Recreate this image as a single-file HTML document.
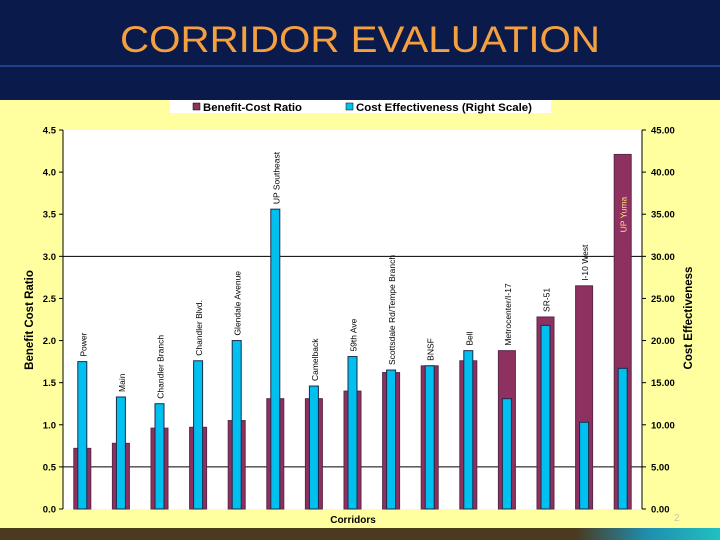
<!DOCTYPE html>
<html><head><meta charset="utf-8"><style>
html,body{margin:0;padding:0;width:720px;height:540px;overflow:hidden;background:#0a1a4a}
svg{display:block;font-family:"Liberation Sans",sans-serif}
</style></head><body>
<svg id="c" width="720" height="540" viewBox="0 0 720 540" xmlns="http://www.w3.org/2000/svg">
<defs>
<linearGradient id="bg" x1="0" x2="1" y1="0" y2="0">
<stop offset="0" stop-color="#4a3a20"/><stop offset="0.8" stop-color="#4a3a20"/><stop offset="0.9" stop-color="#1f8fb0"/><stop offset="1" stop-color="#20c0c0"/>
</linearGradient>
</defs>
<rect x="0" y="0" width="720" height="100" fill="#0a1a4a"/>
<rect x="0" y="65" width="720" height="2" fill="#1f3f8f"/>
<text x="360" y="52" text-anchor="middle" font-size="37" fill="#f5a040" textLength="480" lengthAdjust="spacingAndGlyphs">CORRIDOR EVALUATION</text>
<rect x="0" y="100" width="720" height="428" fill="#ffffa0"/>
<rect x="0" y="528" width="720" height="12" fill="url(#bg)"/>
<rect x="63" y="130" width="579" height="379" fill="#ffffff"/>
<g>
<rect x="170" y="100" width="381" height="13" fill="#ffffff"/>
<rect x="193" y="103" width="7" height="7" fill="#8e3060" stroke="#000" stroke-width="0.5"/>
<text x="203" y="111" font-size="11" font-weight="bold" fill="#000" textLength="99" lengthAdjust="spacingAndGlyphs">Benefit-Cost Ratio</text>
<rect x="346" y="103" width="7" height="7" fill="#00c0f0" stroke="#000" stroke-width="0.5"/>
<text x="356" y="111" font-size="11" font-weight="bold" fill="#000" textLength="176" lengthAdjust="spacingAndGlyphs">Cost Effectiveness (Right Scale)</text>
</g>
<g id="grid"></g>
<g id="bars"></g>
<g id="axes"></g>
<text x="353" y="523" text-anchor="middle" font-size="10" font-weight="bold" fill="#000">Corridors</text>
<text transform="translate(33,320) rotate(-90)" text-anchor="middle" font-size="11.5" font-weight="bold" fill="#000">Benefit Cost Ratio</text>
<text transform="translate(692,318) rotate(-90)" text-anchor="middle" font-size="11.5" font-weight="bold" fill="#000">Cost Effectiveness</text>
<text x="674" y="521" font-size="10" fill="#c8c8a0">2</text>
</svg>
<script>
const categories = ["Power","Main","Chandler Branch","Chandler Blvd.","Glendale Avenue","UP Southeast","Camelback","59th Ave","Scottsdale Rd/Tempe Branch","BNSF","Bell","Metrocenter/I-17","SR-51","I-10 West","UP Yuma"];
const bcrValues = [0.72,0.78,0.96,0.97,1.05,1.31,1.31,1.40,1.62,1.70,1.76,1.88,2.28,2.65,4.21];
const ceValues = [17.5,13.3,12.5,17.6,20.0,35.6,14.6,18.1,16.5,17.0,18.8,13.1,21.8,10.3,16.7];
const leftTicks = ["0.0","0.5","1.0","1.5","2.0","2.5","3.0","3.5","4.0","4.5"];
const rightTicks = ["0.00","5.00","10.00","15.00","20.00","25.00","30.00","35.00","40.00","45.00"];

const NS="http://www.w3.org/2000/svg";
const X0=63,X1=642,Y0=509,Y1=130;
const yL=v=>Y0-(v/4.5)*(Y0-Y1);
const yR=v=>Y0-(v/45)*(Y0-Y1);
const band=(X1-X0)/categories.length;
const xc=i=>X0+band*(i+0.5);
function mk(tag,attrs,parent,txt){const e=document.createElementNS(NS,tag);for(const k in attrs)e.setAttribute(k,attrs[k]);if(txt!==undefined)e.textContent=txt;parent.appendChild(e);return e;}
const grid=document.getElementById('grid'),bars=document.getElementById('bars'),axes=document.getElementById('axes');
[0.5,3.0].forEach(v=>{
  const l=mk('line',{x1:X0,x2:X1,y1:yL(v),y2:yL(v),stroke:'#000','stroke-width':1},grid);
  
  
});
categories.forEach((c,i)=>{
  const cx=xc(i);
  const b=mk('rect',{x:cx-8.5,y:yL(bcrValues[i]),width:17,height:Y0-yL(bcrValues[i]),fill:'#8e3060',stroke:'#5a2848','stroke-width':1},bars);
  
  
  const r=mk('rect',{x:cx-4.5,y:yR(ceValues[i]),width:9,height:Y0-yR(ceValues[i]),fill:'#00c0f0',stroke:'#1a2a4a','stroke-width':1},bars);
  
  
  const last=i===categories.length-1;
  const top=Math.min(yL(bcrValues[i]),yR(ceValues[i]));
  const ly=last? yR(ceValues[i]) - 136 : top-5;
  const t=mk('text',{transform:`translate(${cx+4},${ly}) rotate(-90)`,'font-size':8.5,fill:last?'#ffe080':'#000'},bars,c);
  
  
});
const la=mk('line',{x1:X0,x2:X0,y1:Y1,y2:Y0,stroke:'#000','stroke-width':1},axes);


const ra=mk('line',{x1:X1,x2:X1,y1:Y1,y2:Y0,stroke:'#000','stroke-width':1},axes);


leftTicks.forEach(s=>{
  const y=yL(parseFloat(s));
  const k=mk('line',{x1:X0-4,x2:X0,y1:y,y2:y,stroke:'#000'},axes);
  
  
  const t=mk('text',{x:56,y:y+3.5,'text-anchor':'end','font-size':9.5,'font-weight':'bold',fill:'#000'},axes,s);
  
  
});
rightTicks.forEach(s=>{
  const y=yR(parseFloat(s));
  const k=mk('line',{x1:X1,x2:X1+4,y1:y,y2:y,stroke:'#000'},axes);
  
  
  const t=mk('text',{x:651,y:y+3.5,'font-size':9.5,'font-weight':'bold',fill:'#000'},axes,s);
  
  
});
</script>
</body></html>
